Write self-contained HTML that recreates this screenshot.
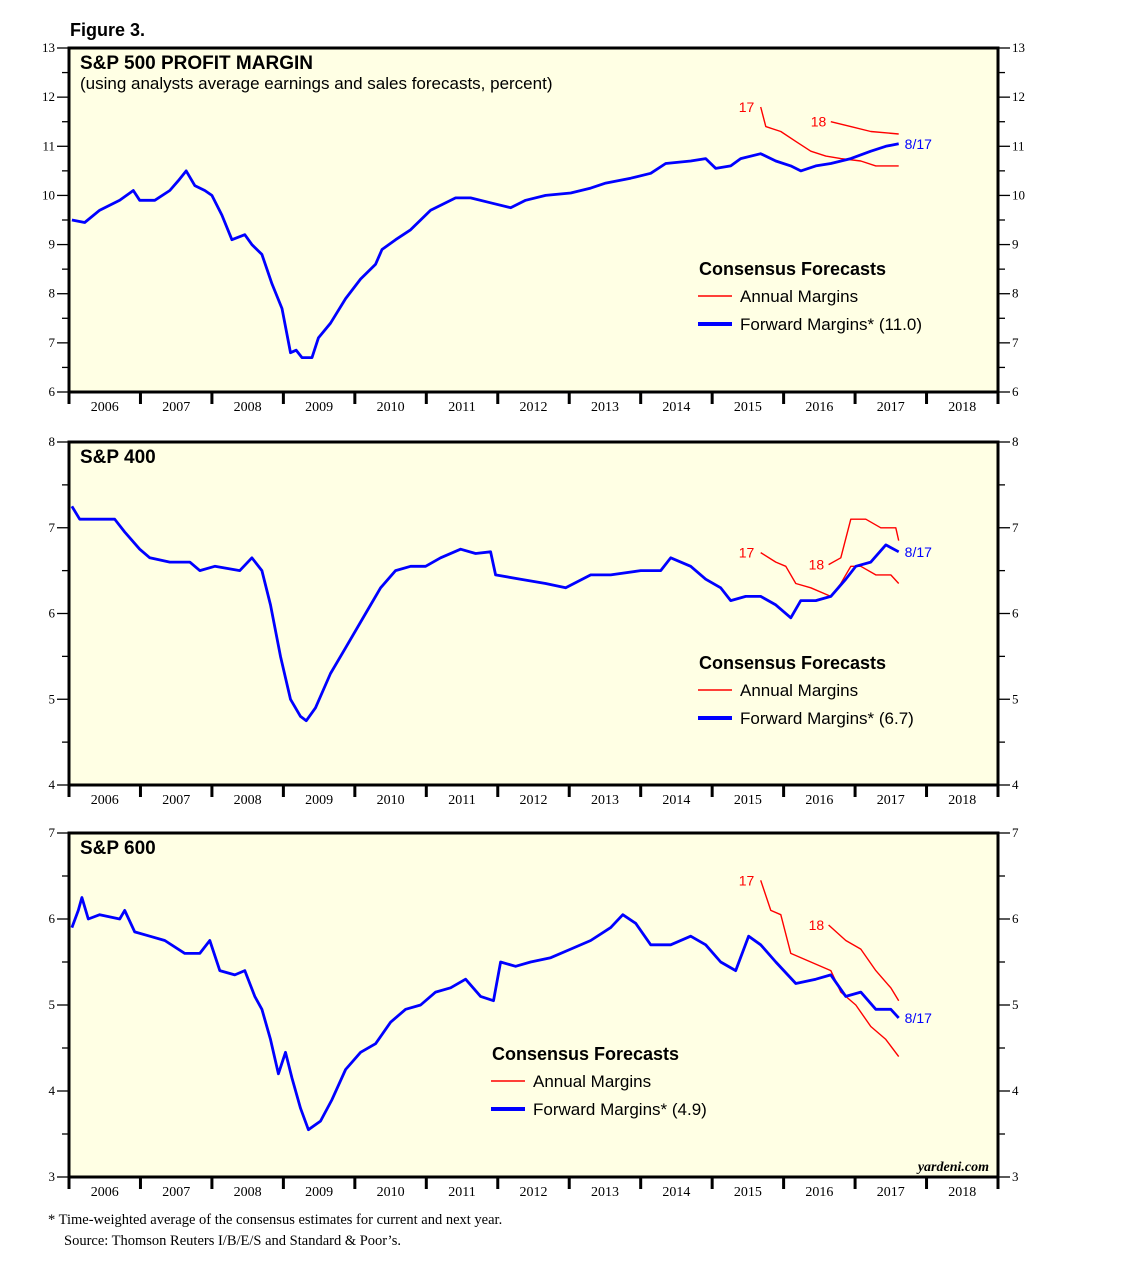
<!DOCTYPE html>
<html><head><meta charset="utf-8"><style>
body{margin:0;background:#fff;}
svg{display:block;}
text{font-family:"Liberation Sans",sans-serif;}
.ser{font-family:"Liberation Serif",serif;font-size:13px;}
.yr{font-family:"Liberation Serif",serif;font-size:14px;}
.fn{font-family:"Liberation Serif",serif;font-size:14.5px;}
</style></head><body>
<svg id="c" width="1138" height="1273" viewBox="0 0 1138 1273">
<text x="70" y="36" font-size="18" font-weight="bold">Figure 3.</text>
<text x="48" y="1224" class="fn">*  Time-weighted average of the consensus estimates for current and next year.</text>
<text x="64" y="1245" class="fn">Source: Thomson Reuters I/B/E/S and Standard &amp; Poor’s.</text>
</svg>
<script>
const years = ["2006","2007","2008","2009","2010","2011","2012","2013","2014","2015","2016","2017","2018"];
const p1Dates = [2006.04,2006.22,2006.43,2006.71,2006.9,2006.99,2007.2,2007.41,2007.53,2007.64,2007.76,2007.9,2008.0,2008.14,2008.28,2008.46,2008.56,2008.7,2008.84,2008.98,2009.1,2009.18,2009.26,2009.4,2009.49,2009.66,2009.87,2010.08,2010.29,2010.38,2010.57,2010.78,2011.06,2011.41,2011.62,2011.9,2012.18,2012.39,2012.67,2013.02,2013.3,2013.51,2013.86,2014.14,2014.35,2014.7,2014.91,2015.05,2015.26,2015.4,2015.68,2015.89,2016.1,2016.24,2016.45,2016.66,2016.94,2017.22,2017.43,2017.61];
const p1Fwd = [9.5,9.45,9.7,9.9,10.1,9.9,9.9,10.1,10.3,10.5,10.2,10.1,10.0,9.6,9.1,9.2,9.0,8.8,8.2,7.7,6.8,6.85,6.7,6.7,7.1,7.4,7.9,8.3,8.6,8.9,9.1,9.3,9.7,9.95,9.95,9.85,9.75,9.9,10.0,10.05,10.15,10.25,10.35,10.45,10.65,10.7,10.75,10.55,10.6,10.75,10.85,10.7,10.6,10.5,10.6,10.65,10.75,10.9,11.0,11.05];
const p1A17Dates = [2015.68,2015.75,2015.96,2016.17,2016.38,2016.59,2016.8,2017.08,2017.29,2017.61];
const p1A17 = [11.8,11.4,11.3,11.1,10.9,10.8,10.75,10.7,10.6,10.6];
const p1A18Dates = [2016.66,2016.94,2017.22,2017.61];
const p1A18 = [11.5,11.4,11.3,11.25];

const p2Dates = [2006.04,2006.15,2006.43,2006.64,2006.78,2006.99,2007.13,2007.41,2007.69,2007.83,2008.04,2008.39,2008.56,2008.7,2008.82,2008.96,2009.1,2009.24,2009.32,2009.45,2009.66,2009.87,2010.15,2010.36,2010.57,2010.78,2010.99,2011.2,2011.48,2011.69,2011.9,2011.97,2012.32,2012.67,2012.95,2013.3,2013.58,2014.0,2014.28,2014.42,2014.7,2014.91,2015.12,2015.26,2015.47,2015.68,2015.89,2016.1,2016.24,2016.45,2016.66,2016.87,2017.01,2017.22,2017.43,2017.61];
const p2Fwd = [7.25,7.1,7.1,7.1,6.95,6.75,6.65,6.6,6.6,6.5,6.55,6.5,6.65,6.5,6.1,5.5,5.0,4.8,4.75,4.9,5.3,5.6,6.0,6.3,6.5,6.55,6.55,6.65,6.75,6.7,6.72,6.45,6.4,6.35,6.3,6.45,6.45,6.5,6.5,6.65,6.55,6.4,6.3,6.15,6.2,6.2,6.1,5.95,6.15,6.15,6.2,6.4,6.55,6.6,6.8,6.72];
const p2A17Dates = [2015.68,2015.89,2016.03,2016.17,2016.38,2016.66,2016.8,2016.94,2017.08,2017.29,2017.5,2017.61];
const p2A17 = [6.71,6.6,6.55,6.35,6.3,6.2,6.35,6.55,6.55,6.45,6.45,6.35];
const p2A18Dates = [2016.63,2016.8,2016.94,2017.15,2017.36,2017.57,2017.61];
const p2A18 = [6.57,6.65,7.1,7.1,7.0,7.0,6.85];

const p3Dates = [2006.04,2006.13,2006.18,2006.27,2006.43,2006.71,2006.78,2006.92,2007.13,2007.34,2007.62,2007.83,2007.97,2008.11,2008.32,2008.46,2008.6,2008.7,2008.82,2008.93,2009.03,2009.12,2009.24,2009.35,2009.52,2009.68,2009.87,2010.08,2010.29,2010.5,2010.71,2010.92,2011.13,2011.34,2011.55,2011.76,2011.94,2012.04,2012.25,2012.46,2012.74,2013.02,2013.3,2013.58,2013.75,2013.93,2014.14,2014.42,2014.7,2014.91,2015.12,2015.33,2015.51,2015.68,2015.89,2016.17,2016.45,2016.66,2016.87,2017.08,2017.29,2017.5,2017.61];
const p3Fwd = [5.9,6.1,6.25,6.0,6.05,6.0,6.1,5.85,5.8,5.75,5.6,5.6,5.75,5.4,5.35,5.4,5.1,4.95,4.6,4.2,4.45,4.15,3.8,3.55,3.65,3.9,4.25,4.45,4.55,4.8,4.95,5.0,5.15,5.2,5.3,5.1,5.05,5.5,5.45,5.5,5.55,5.65,5.75,5.9,6.05,5.95,5.7,5.7,5.8,5.7,5.5,5.4,5.8,5.7,5.5,5.25,5.3,5.35,5.1,5.15,4.95,4.95,4.85];
const p3A17Dates = [2015.68,2015.82,2015.96,2016.1,2016.38,2016.66,2016.8,2017.01,2017.22,2017.43,2017.61];
const p3A17 = [6.45,6.1,6.05,5.6,5.5,5.4,5.15,5.0,4.75,4.6,4.4];
const p3A18Dates = [2016.63,2016.87,2017.08,2017.29,2017.5,2017.61];
const p3A18 = [5.93,5.75,5.65,5.4,5.2,5.05];

const NS = "http://www.w3.org/2000/svg";
const svg = document.getElementById('c');
function mk(tag, attrs, parent){const e=document.createElementNS(NS,tag);for(const k in attrs)e.setAttribute(k,attrs[k]);(parent||svg).appendChild(e);return e;}
const X0=69, X1=998;
function xScale(d){return X0+(d-2006)*(X1-X0)/13;}

function panel(cfg){
  const g=mk('g',{});
  
  
  const y=v=>cfg.top+(cfg.max-v)*(cfg.bot-cfg.top)/(cfg.max-cfg.min);
  const bg=mk('rect',{x:X0,y:cfg.top,width:X1-X0,height:cfg.bot-cfg.top,fill:'#ffffe4'},g);
  
  
  for(let v=cfg.min; v<=cfg.max+0.001; v+=0.5){
    const yy=y(v), major=Math.abs(v-Math.round(v))<0.01;
    mk('line',{x1:X0-(major?12:7),x2:X0,y1:yy,y2:yy,stroke:'#000','stroke-width':1.3},g);
    mk('line',{x1:X1,x2:X1+(major?12:7),y1:yy,y2:yy,stroke:'#000','stroke-width':1.3},g);
    if(major){
      const l=mk('text',{x:X0-14,y:yy+4,'text-anchor':'end',class:'ser'},g); l.textContent=v;
      
      
      const r=mk('text',{x:X1+14,y:yy+4,class:'ser'},g); r.textContent=v;
      
      
    }
  }
  years.forEach((yr,i)=>{
    const xx=xScale(2006+i);
    mk('line',{x1:xx,x2:xx,y1:cfg.bot,y2:cfg.bot+12,stroke:'#000','stroke-width':3},g);
    const t=mk('text',{x:xScale(2006.5+i),y:cfg.bot+19,'text-anchor':'middle',class:'yr'},g); t.textContent=yr;
    
    
  });
  mk('line',{x1:X1,x2:X1,y1:cfg.bot,y2:cfg.bot+12,stroke:'#000','stroke-width':3},g);
  const line=(ds,vs,col,w,nm)=>{
    const p=mk('polyline',{points:ds.map((d,i)=>xScale(d).toFixed(1)+','+y(vs[i]).toFixed(1)).join(' '),fill:'none',stroke:col,'stroke-width':w,'stroke-linejoin':'round'},g);
    
    
  };
  line(cfg.a17d,cfg.a17,'#ff0000',1.4,'annual-margin-17-line');
  line(cfg.a18d,cfg.a18,'#ff0000',1.4,'annual-margin-18-line');
  line(cfg.fd,cfg.fv,'#0000ff',2.8,'forward-margin-line');
  const lab=(txt,x,yy,col,nm)=>{const t=mk('text',{x:x,y:yy,fill:col,'font-size':14},g);t.textContent=txt;
    
    };
  lab('17',xScale(cfg.a17d[0])-22,y(cfg.a17[0])+5,'#ff0000','label-17');
  lab('18',xScale(cfg.a18d[0])-20,y(cfg.a18[0])+5,'#ff0000','label-18');
  lab('8/17',xScale(cfg.fd[cfg.fd.length-1])+6,y(cfg.fv[cfg.fv.length-1])+5+cfg.lblOff,'#0000ff','label-latest-date');
  const fr=mk('rect',{x:X0,y:cfg.top,width:X1-X0,height:cfg.bot-cfg.top,fill:'none',stroke:'#000','stroke-width':3},g);
  
  
  const ti=mk('text',{x:80,y:cfg.top+21,'font-size':19,'font-weight':'bold'},g); ti.textContent=cfg.title;
  
  
  if(cfg.sub){const s=mk('text',{x:80,y:cfg.top+41,'font-size':17},g);s.textContent=cfg.sub;
    
    }
  const lg=mk('g',{},g);
  
  
  const lx=cfg.lx, ly=cfg.ly;
  const h=mk('text',{x:lx,y:ly,'font-size':18,'font-weight':'bold'},lg); h.textContent='Consensus Forecasts';
  
  
  mk('line',{x1:lx-1,x2:lx+33,y1:ly+21,y2:ly+21,stroke:'#ff0000','stroke-width':1.5},lg);
  const a=mk('text',{x:lx+41,y:ly+27,'font-size':17},lg); a.textContent='Annual Margins';
  
  
  mk('line',{x1:lx-1,x2:lx+33,y1:ly+49,y2:ly+49,stroke:'#0000ff','stroke-width':4},lg);
  const b=mk('text',{x:lx+41,y:ly+55,'font-size':17},lg); b.textContent='Forward Margins* ('+cfg.latest+')';
  
  
}

panel({name:'sp500-panel',top:48,bot:392,min:6,max:13,title:'S&P 500 PROFIT MARGIN',sub:'(using analysts average earnings and sales forecasts, percent)',
  fd:p1Dates,fv:p1Fwd,a17d:p1A17Dates,a17:p1A17,a18d:p1A18Dates,a18:p1A18,lx:699,ly:275,latest:'11.0',lblOff:0});
panel({name:'sp400-panel',top:442,bot:785,min:4,max:8,title:'S&P 400',
  fd:p2Dates,fv:p2Fwd,a17d:p2A17Dates,a17:p2A17,a18d:p2A18Dates,a18:p2A18,lx:699,ly:669,latest:'6.7',lblOff:0});
panel({name:'sp600-panel',top:833,bot:1177,min:3,max:7,title:'S&P 600',
  fd:p3Dates,fv:p3Fwd,a17d:p3A17Dates,a17:p3A17,a18d:p3A18Dates,a18:p3A18,lx:492,ly:1060,latest:'4.9',lblOff:0});
const yd=mk('text',{x:989,y:1171,'text-anchor':'end','font-size':14,'font-style':'italic','font-weight':'bold',style:'font-family:"Liberation Serif",serif'});
yd.textContent='yardeni.com';


</script>
</body></html>
